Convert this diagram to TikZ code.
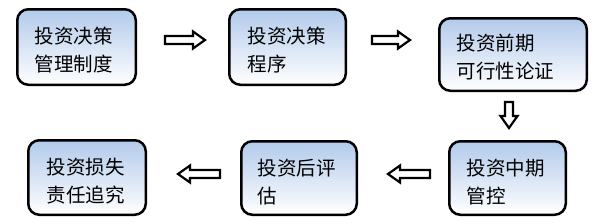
\documentclass[tikz,border=0pt]{standalone}
\usepackage{fontspec}
\newfontfamily\cjk{Noto Sans CJK SC}
\usetikzlibrary{calc}
\definecolor{boxtop}{RGB}{178,202,235}
\tikzset{
  box/.style={draw=black, line width=2.5pt, rounded corners=11pt,
    top color=boxtop, bottom color=white, inner sep=0pt},
  boxtext/.style={anchor=west, inner sep=0pt, align=left,
    font=\cjk\fontsize{19.5}{28}\selectfont},
  blockarrow/.style={draw=black, line width=2.2pt, fill=white, line join=miter,
    to path={
      let \p1=(\tikztostart), \p2=(\tikztotarget),
          \n1={atan2(\y2-\y1,\x2-\x1)},
          \n2={veclen(\x2-\x1,\y2-\y1)-12}
      in ($(\p1)+({\n1+90}:4pt)$)
      -- ($(\p1)+({\n1}:{\n2*1pt})+({\n1+90}:4pt)$)
      -- ($(\p1)+({\n1}:{\n2*1pt})+({\n1+90}:8.5pt)$)
      -- (\p2)
      -- ($(\p1)+({\n1}:{\n2*1pt})+({\n1-90}:8.5pt)$)
      -- ($(\p1)+({\n1}:{\n2*1pt})+({\n1-90}:4pt)$)
      -- ($(\p1)+({\n1-90}:4pt)$) -- cycle}}
}
\begin{document}
\begin{tikzpicture}[x=1pt,y=-1pt]
\useasboundingbox (0,0) rectangle (600,223);
\node[box, minimum width=118.5pt, minimum height=75.5pt] (b1) at (76.5,47) {};
\node[box, minimum width=116.5pt, minimum height=75.5pt] (b2) at (287.5,47) {};
\node[box, minimum width=147.5pt, minimum height=72.5pt] (b3) at (513,54.5) {};
\node[box, minimum width=116.5pt, minimum height=73.5pt] (b4) at (507.5,178) {};
\node[box, minimum width=115.5pt, minimum height=73.5pt] (b5) at (299,178) {};
\node[box, minimum width=117.5pt, minimum height=74.5pt] (b6) at (87,177.5) {};
\node[boxtext] (t1) at ([xshift=18.5pt,yshift=-3pt]b1.west) {投资决策\\管理制度};
\node[boxtext] (t2) at ([xshift=19.5pt,yshift=-3pt]b2.west) {投资决策\\程序};
\node[boxtext] (t3) at ([xshift=18.5pt,yshift=-3pt]b3.west) {投资前期\\可行性论证};
\node[boxtext] (t4) at ([xshift=18.5pt,yshift=-4pt]b4.west) {投资中期\\管控};
\node[boxtext] (t5) at ([xshift=17.5pt,yshift=-4pt]b5.west) {投资后评\\估};
\node[boxtext] (t6) at ([xshift=19.5pt,yshift=-4pt]b6.west) {投资损失\\责任追究};
\coordinate (a1s) at ([xshift=28pt,yshift=7pt]b1.east);
\coordinate (a1e) at ([xshift=-23pt,yshift=7pt]b2.west);
\coordinate (a2s) at ([xshift=25pt,yshift=7pt]b2.east);
\coordinate (a2e) at ([xshift=-28pt,yshift=14.5pt]b3.west);
\coordinate (a3s) at ([xshift=-4pt,yshift=-10pt]b3.south);
\coordinate (a3e) at ([xshift=1.5pt,yshift=12pt]b4.north);
\coordinate (a4s) at ([xshift=-18pt,yshift=4pt]b4.west);
\coordinate (a4e) at ([xshift=30pt,yshift=4pt]b5.east);
\coordinate (a5s) at ([xshift=-20pt,yshift=4pt]b5.west);
\coordinate (a5e) at ([xshift=31pt,yshift=3.5pt]b6.east);
\draw[blockarrow] (a1s) to (a1e);
\draw[blockarrow] (a2s) to (a2e);
\draw[blockarrow] (a3s) to (a3e);
\draw[blockarrow] (a4s) to (a4e);
\draw[blockarrow] (a5s) to (a5e);
\end{tikzpicture}
\end{document}
